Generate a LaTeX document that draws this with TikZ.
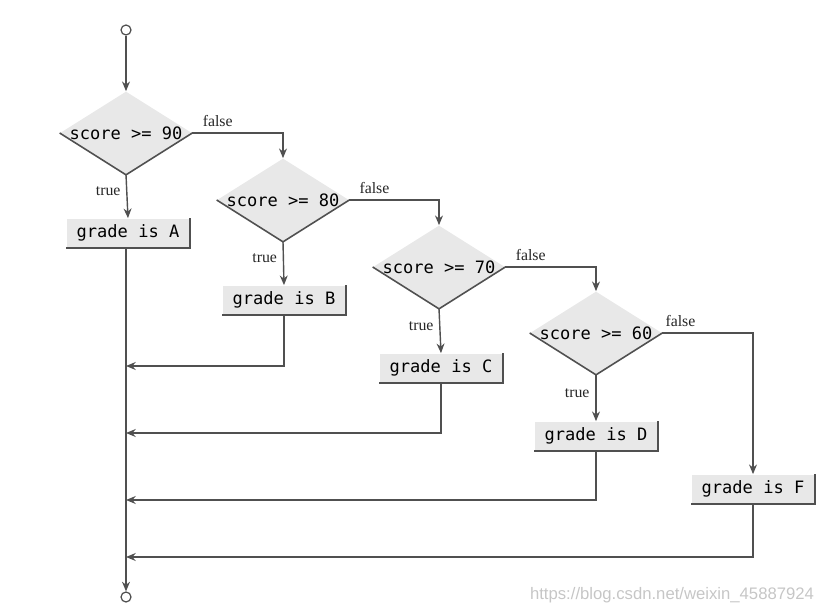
\documentclass[tikz,border=0pt]{standalone}
\usepackage{fontspec}
\setmainfont{Liberation Serif}
\setmonofont{DejaVu Sans Mono}
\newfontfamily\marksans{Liberation Sans}
\usepackage{xcolor}
\usetikzlibrary{shapes.geometric, arrows.meta, calc}

\definecolor{flowline}{HTML}{505050}
\definecolor{shade}{HTML}{E8E8E8}

\begin{document}
\begin{tikzpicture}[
    x=0.02cm, y=-0.02cm,
    decision/.style={diamond, fill=shade, inner sep=0pt, minimum width=2.64cm, minimum height=1.66cm, font=\ttfamily\fontsize{9.7}{11}\selectfont},
    gradebox/.style={rectangle, fill=shade, minimum width=2.46cm, minimum height=0.58cm, inner sep=0pt, font=\ttfamily\fontsize{9.7}{11}\selectfont},
    endpoint/.style={circle, draw=flowline, line width=0.7pt, fill=white, minimum size=0.2cm, inner sep=0pt},
    arrow/.style={line width=0.8pt, ->, >={Stealth[length=5.5pt, width=4.5pt]}, color=flowline},
    link/.style={line width=0.9pt, color=flowline},
    lbl/.style={font=\fontsize{9}{10}\selectfont, text=black!85}
]
    \useasboundingbox (0,0) rectangle (817,614);

    % Start and end points
    \node (start) [endpoint] at (126,30) {};
    \node (stop) [endpoint] at (126,597) {};

    % Decisions (text boxed to zero width so the diamond keeps its size)
    \node (d1) [decision] at (126,133) {\makebox[0pt]{score >= 90}};
    \node (d2) [decision] at (283,200) {\makebox[0pt]{score >= 80}};
    \node (d3) [decision] at (439,267) {\makebox[0pt]{score >= 70}};
    \node (d4) [decision] at (596,333) {\makebox[0pt]{score >= 60}};

    % Grades
    \node (A) [gradebox] at (128,233) {grade is A};
    \node (B) [gradebox] at (284,300) {grade is B};
    \node (C) [gradebox] at (441,368) {grade is C};
    \node (D) [gradebox] at (596,436) {grade is D};
    \node (F) [gradebox] at (753,489) {grade is F};

    % Shape edges
    \foreach \d in {d1,d2,d3,d4}
        \draw [link] (\d.west) -- (\d.south) -- (\d.east);
    \foreach \b in {A,B,C,D,F}
        \draw [link] (\b.north east) -- (\b.south east) -- (\b.south west);

    % Joins on the main line
    \coordinate (jB) at (126,366);
    \coordinate (jC) at (126,433);
    \coordinate (jD) at (126,500);
    \coordinate (jF) at (126,557);

    % Connecting Arrows
    \draw [arrow] (start) -- (d1.north);
    \draw [arrow] (d1.south) -- (A.north) node[lbl, midway, left, yshift=3pt] {true};
    \draw [arrow] (d2.south) -- (B.north) node[lbl, midway, left, yshift=3pt] {true};
    \draw [arrow] (d3.south) -- (C.north) node[lbl, midway, left, yshift=3pt] {true};
    \draw [arrow] (d4.south) -- (D.north) node[lbl, midway, left, yshift=3pt] {true};
    \draw [arrow] (d1.east) -| (d2.north) node[lbl, pos=0.14, above] {false};
    \draw [arrow] (d2.east) -| (d3.north) node[lbl, pos=0.14, above] {false};
    \draw [arrow] (d3.east) -| (d4.north) node[lbl, pos=0.14, above] {false};
    \draw [arrow] (d4.east) -| (F.north) node[lbl, pos=0.1, above] {false};
    \draw [arrow] (B.south) |- (jB);
    \draw [arrow] (C.south) |- (jC);
    \draw [arrow] (D.south) |- (jD);
    \draw [arrow] (F.south) |- (jF);
    \draw [arrow] (A.south -| start) -- (stop.north);

    \node (mark) [font=\marksans\fontsize{9.5}{10}\selectfont, text=gray!45] at (672,595) {https://blog.csdn.net/weixin\_45887924};

\end{tikzpicture}
\end{document}
